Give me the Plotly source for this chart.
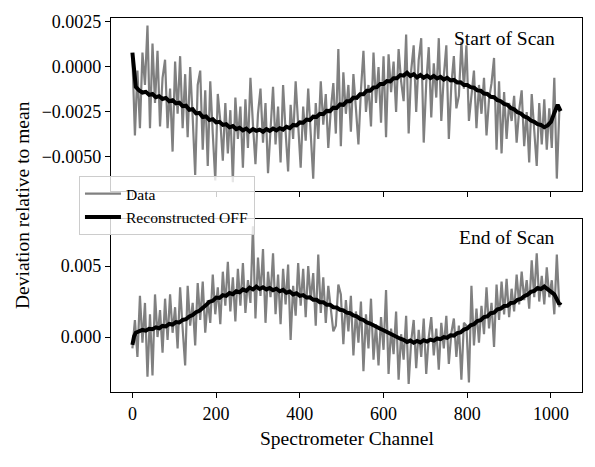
import plotly.graph_objects as go

# ---------------- data ----------------
# Gray "Data" samples: channels 0, 6, 12, ..., 1020
data_channels = list(range(0, 1021, 6))

start_data = [
    0.0006, -0.0038, -0.0002, -0.0034, 0.0008, -0.0010, 0.0023, -0.0034, 0.0013, -0.0020,
    0.0009, -0.0033, -0.0006, 0.0004, -0.0034, -0.0012, -0.0047, 0.0003, -0.0026, 0.0006,
    -0.0034, -0.0004, -0.0039, 0.0000, -0.0028, -0.0060, -0.0010, -0.0002, -0.0046, -0.0013,
    -0.0055, -0.0008, -0.0037, -0.0063, -0.0015, -0.0030, -0.0052, -0.0020, -0.0048, -0.0024,
    -0.0064, -0.0017, -0.0040, -0.0022, -0.0056, -0.0018, -0.0045, -0.0006, -0.0032, -0.0054,
    -0.0026, -0.0012, -0.0042, -0.0020, -0.0059, -0.0031, -0.0011, -0.0043, -0.0022, -0.0053,
    -0.0010, -0.0036, -0.0058, -0.0021, -0.0040, -0.0008, -0.0033, -0.0056, -0.0022, -0.0041,
    -0.0012, -0.0035, -0.0062, -0.0020, -0.0040, -0.0008, -0.0032, -0.0015, -0.0045, -0.0024,
    -0.0009, -0.0037, 0.0010, -0.0044, -0.0003, -0.0026, -0.0010, -0.0036, -0.0004, -0.0023,
    -0.0043, -0.0013, 0.0009, -0.0025, -0.0010, -0.0033, 0.0008, -0.0020, 0.0000, -0.0031,
    0.0006, -0.0039, 0.0007, -0.0014, 0.0003, -0.0025, 0.0010, -0.0008, -0.0019, 0.0018,
    -0.0037, -0.0002, 0.0012, -0.0025, 0.0004, 0.0016, -0.0042, -0.0009, 0.0011, -0.0028,
    0.0002, -0.0017, 0.0016, -0.0030, -0.0005, 0.0012, -0.0040, -0.0010, 0.0006, -0.0023,
    -0.0016, 0.0014, -0.0012, 0.0012, -0.0030, -0.0016, -0.0002, -0.0034, -0.0010, -0.0026,
    -0.0006, -0.0038, -0.0018, -0.0009, 0.0005, -0.0046, -0.0008, -0.0048, -0.0014, -0.0040,
    -0.0020, -0.0030, -0.0016, -0.0042, -0.0024, -0.0013, -0.0044, -0.0025, -0.0053, -0.0015,
    -0.0036, -0.0055, -0.0020, -0.0043, -0.0018, -0.0046, -0.0023, -0.0045, -0.0006, -0.0062,
    -0.0024,
]

end_data = [
    -0.0008, 0.0012, -0.0014, 0.0029, -0.0004, 0.0024, -0.0028, 0.0016, -0.0027, 0.0030,
    0.0000, 0.0019, -0.0011, 0.0027, -0.0002, 0.0030, 0.0003, 0.0021, -0.0008, 0.0035,
    0.0006, -0.0020, 0.0036, 0.0008, 0.0024, -0.0006, 0.0038, 0.0012, 0.0039, 0.0003,
    0.0026, 0.0010, 0.0044, 0.0016, 0.0035, 0.0009, 0.0046, 0.0022, 0.0053, 0.0018,
    0.0042, 0.0011, 0.0048, 0.0022, 0.0052, 0.0017, 0.0040, 0.0024, 0.0078, 0.0013,
    0.0056, 0.0029, 0.0062, 0.0010, 0.0046, 0.0028, 0.0059, 0.0016, 0.0044, 0.0009,
    0.0048, 0.0023, 0.0051, -0.0002, 0.0036, 0.0015, 0.0052, 0.0022, 0.0048, 0.0014,
    0.0050, 0.0026, 0.0045, 0.0008, 0.0058, 0.0017, 0.0042, 0.0010, 0.0036, 0.0022,
    0.0004, 0.0008, 0.0037, 0.0030, -0.0005, 0.0026, 0.0004, 0.0029, -0.0013, 0.0018,
    -0.0004, 0.0025, -0.0024, 0.0016, -0.0008, 0.0027, -0.0016, 0.0009, -0.0020, 0.0014,
    -0.0009, 0.0033, -0.0026, 0.0006, -0.0012, 0.0018, -0.0030, 0.0002, -0.0016, 0.0015,
    -0.0033, -0.0003, 0.0012, -0.0022, 0.0005, -0.0014, 0.0013, -0.0026, 0.0000, 0.0014,
    -0.0013, 0.0006, -0.0023, 0.0010, -0.0008, 0.0015, -0.0019, 0.0003, 0.0013, -0.0014,
    0.0008, -0.0030, 0.0010, 0.0008, -0.0032, 0.0036, -0.0006, 0.0020, -0.0004, 0.0022,
    0.0002, 0.0035, 0.0006, 0.0024, -0.0007, 0.0037, 0.0012, 0.0039, 0.0016, 0.0041,
    0.0014, 0.0034, 0.0018, 0.0044, 0.0023, 0.0046, 0.0026, 0.0040, 0.0020, 0.0054,
    0.0028, 0.0059, 0.0025, 0.0043, 0.0023, 0.0049, 0.0028, 0.0040, 0.0016, 0.0058,
    0.0021,
]

# Black "Reconstructed OFF" samples
recon_channels = [0, 2, 4, 8] + list(range(16, 1017, 8)) + [1020, 1023]

start_recon = [
    0.0008, 0.0003, -0.0004, -0.0011,
    -0.00130, -0.00142, -0.00138, -0.00155, -0.00150, -0.00168, -0.00162, -0.00178,
    -0.00172, -0.00190, -0.00185, -0.00202, -0.00198, -0.00218, -0.00215, -0.00238,
    -0.00235, -0.00258, -0.00255, -0.00278, -0.00275, -0.00295, -0.00290, -0.00308,
    -0.00305, -0.00322, -0.00318, -0.00335, -0.00328, -0.00345, -0.00338, -0.00352,
    -0.00342, -0.00358, -0.00345, -0.00355, -0.00348, -0.00360, -0.00345, -0.00355,
    -0.00342, -0.00352, -0.00340, -0.00348, -0.00332, -0.00340, -0.00322, -0.00325,
    -0.00308, -0.00310, -0.00292, -0.00295, -0.00276, -0.00278, -0.00260, -0.00262,
    -0.00244, -0.00245, -0.00226, -0.00228, -0.00208, -0.00210, -0.00190, -0.00190,
    -0.00170, -0.00172, -0.00152, -0.00152, -0.00132, -0.00132, -0.00114, -0.00112,
    -0.00095, -0.00095, -0.00078, -0.00080, -0.00062, -0.00062, -0.00045, -0.00048,
    -0.00032, -0.00050, -0.00040, -0.00058, -0.00045, -0.00060, -0.00048, -0.00062,
    -0.00050, -0.00064, -0.00055, -0.00070, -0.00060, -0.00075, -0.00072, -0.00086,
    -0.00085, -0.00100, -0.00100, -0.00112, -0.00115, -0.00130, -0.00132, -0.00148,
    -0.00150, -0.00166, -0.00168, -0.00184, -0.00190, -0.00205, -0.00210, -0.00228,
    -0.00235, -0.00252, -0.00258, -0.00275, -0.00282, -0.00298, -0.00305, -0.00318,
    -0.00322, -0.00335, -0.00325, -0.00305, -0.00255, -0.00210,
    -0.00230, -0.00245,
]

end_recon = [
    -0.00056, -0.00020, 0.00005, 0.00030,
    0.00042, 0.00050, 0.00045, 0.00058, 0.00055, 0.00068, 0.00062, 0.00078,
    0.00075, 0.00092, 0.00088, 0.00105, 0.00102, 0.00120, 0.00125, 0.00145,
    0.00155, 0.00175, 0.00185, 0.00210, 0.00225, 0.00248, 0.00255, 0.00278,
    0.00275, 0.00295, 0.00290, 0.00310, 0.00302, 0.00322, 0.00315, 0.00335,
    0.00325, 0.00348, 0.00335, 0.00355, 0.00338, 0.00350, 0.00335, 0.00345,
    0.00330, 0.00340, 0.00322, 0.00332, 0.00312, 0.00320, 0.00300, 0.00308,
    0.00290, 0.00295, 0.00278, 0.00280, 0.00262, 0.00262, 0.00245, 0.00245,
    0.00228, 0.00228, 0.00210, 0.00208, 0.00192, 0.00188, 0.00172, 0.00168,
    0.00152, 0.00145, 0.00128, 0.00120, 0.00102, 0.00095, 0.00080, 0.00070,
    0.00058, 0.00048, 0.00035, 0.00025, 0.00010, 0.00002, -0.00012, -0.00020,
    -0.00035, -0.00025, -0.00040, -0.00028, -0.00038, -0.00022, -0.00032, -0.00018,
    -0.00025, -0.00010, -0.00015, 0.00000, -0.00005, 0.00012, 0.00010, 0.00028,
    0.00032, 0.00052, 0.00060, 0.00082, 0.00090, 0.00112, 0.00118, 0.00140,
    0.00145, 0.00168, 0.00172, 0.00195, 0.00200, 0.00218, 0.00220, 0.00240,
    0.00242, 0.00262, 0.00268, 0.00288, 0.00298, 0.00318, 0.00325, 0.00345,
    0.00338, 0.00355, 0.00335, 0.00320, 0.00300, 0.00255,
    0.00230, 0.00245,
]

panel_labels = ["Start of Scan", "End of Scan"]
legend_names = ["Data", "Reconstructed OFF"]
x_ticks = [0, 200, 400, 600, 800, 1000]

# ---------------- figure ----------------
FONT = "Liberation Serif, Times New Roman, serif"
GRAY = "#808080"

fig = go.Figure()

fig.add_trace(go.Scatter(x=data_channels, y=start_data, mode="lines", name=legend_names[0],
                         line=dict(color=GRAY, width=2.2), xaxis="x", yaxis="y", legendrank=1))
fig.add_trace(go.Scatter(x=recon_channels, y=start_recon, mode="lines", name=legend_names[1],
                         line=dict(color="black", width=4), xaxis="x", yaxis="y", legendrank=2))
fig.add_trace(go.Scatter(x=data_channels, y=end_data, mode="lines", showlegend=False,
                         line=dict(color=GRAY, width=2.2), xaxis="x2", yaxis="y2"))
fig.add_trace(go.Scatter(x=recon_channels, y=end_recon, mode="lines", showlegend=False,
                         line=dict(color="black", width=4), xaxis="x2", yaxis="y2"))

axis_common = dict(showline=True, linecolor="black", linewidth=1.2, mirror=True,
                   ticks="outside", ticklen=5, tickwidth=1.2, tickcolor="black",
                   showgrid=False, zeroline=False, automargin=False,
                   tickfont=dict(family=FONT, size=18, color="black"))

top_dom = [0.5374, 1.0]
bot_dom = [0.0, 0.4626]

# The page body adds an 8 px offset, so the figure is 8 px smaller and margins shifted.
fig.update_layout(
    width=587, height=459,
    margin=dict(l=103, r=13, t=10, b=75, autoexpand=False),
    paper_bgcolor="white", plot_bgcolor="white",
    font=dict(family=FONT, size=18, color="black"),
    xaxis=dict(axis_common, domain=[0, 1], anchor="y", range=[-51.15, 1074.15],
               tickvals=x_ticks, showticklabels=False),
    yaxis=dict(axis_common, domain=top_dom, anchor="x", range=[-0.00689, 0.00272],
               dtick=0.0025, tick0=0, tickformat=".4f"),
    xaxis2=dict(axis_common, domain=[0, 1], anchor="y2", range=[-51.15, 1074.15],
                tickvals=x_ticks, matches="x"),
    yaxis2=dict(axis_common, domain=bot_dom, anchor="x2", range=[-0.00387, 0.00831],
                dtick=0.005, tick0=0, tickformat=".3f"),
    showlegend=True,
    legend=dict(x=-0.068, y=0.5775, xanchor="left", yanchor="top",
                bgcolor="rgba(255,255,255,0.8)", bordercolor="#cccccc", borderwidth=1,
                font=dict(family=FONT, size=15.6, color="black"),
                tracegroupgap=0, itemwidth=36),
    annotations=[
        dict(text=panel_labels[0], xref="paper", yref="paper", x=0.947, y=0.9465,
             xanchor="right", yanchor="middle", showarrow=False,
             font=dict(family=FONT, size=19.5, color="black")),
        dict(text=panel_labels[1], xref="paper", yref="paper", x=0.947, y=0.412,
             xanchor="right", yanchor="middle", showarrow=False,
             font=dict(family=FONT, size=19.5, color="black")),
        dict(text="Spectrometer Channel", xref="paper", yref="paper", x=0.5, y=-0.123,
             xanchor="center", yanchor="middle", showarrow=False,
             font=dict(family=FONT, size=19.5, color="black")),
        dict(text="Deviation relative to mean", xref="paper", yref="paper", x=-0.189, y=0.5,
             xanchor="center", yanchor="middle", showarrow=False, textangle=-90,
             font=dict(family=FONT, size=19.5, color="black")),
    ],
)

fig.write_html("out.html")
